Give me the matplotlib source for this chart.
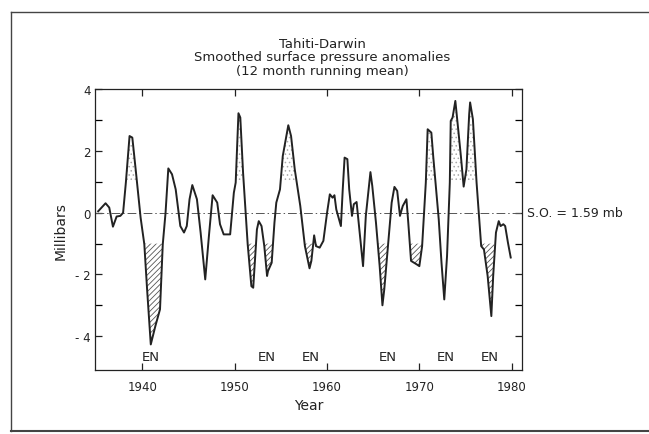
import numpy as np
import matplotlib
matplotlib.use('Agg')
import matplotlib.pyplot as plt
from matplotlib.lines import Line2D

# Tahiti-Darwin pressure anomaly, 12 month running mean
years = [1935.2, 1936.0, 1936.4, 1936.8, 1937.2, 1937.6, 1937.9, 1938.2, 1938.6, 1938.9,
         1939.3, 1939.8, 1940.2, 1940.5, 1940.9, 1941.4, 1941.9, 1942.2, 1942.5, 1942.8,
         1943.2, 1943.6, 1944.1, 1944.5, 1944.8, 1945.1, 1945.4, 1945.9, 1946.3, 1946.8,
         1947.2, 1947.6, 1948.1, 1948.4, 1948.8, 1949.5, 1949.9, 1950.1, 1950.4, 1950.6,
         1950.9, 1951.4, 1951.8, 1952.0, 1952.4, 1952.6, 1952.9, 1953.2, 1953.5, 1953.6,
         1954.0, 1954.3, 1954.5, 1954.9, 1955.2, 1955.8, 1956.1, 1956.5, 1957.1, 1957.6,
         1958.1, 1958.3, 1958.6, 1958.8, 1959.2, 1959.6, 1960.0, 1960.3, 1960.6, 1960.8,
         1961.0, 1961.5, 1961.7, 1961.9, 1962.2, 1962.4, 1962.7, 1962.9, 1963.2, 1963.5,
         1963.9, 1964.2, 1964.7, 1964.9, 1965.3, 1965.7, 1966.0, 1966.2, 1966.6, 1967.0,
         1967.3, 1967.6, 1967.9, 1968.2, 1968.6, 1968.8, 1969.1, 1969.7, 1970.0, 1970.3,
         1970.7, 1970.9, 1971.3, 1971.5, 1972.1, 1972.4, 1972.7, 1973.0, 1973.3, 1973.4,
         1973.6, 1973.9, 1974.1, 1974.5, 1974.8, 1975.1, 1975.4, 1975.5, 1975.8, 1976.2,
         1976.7, 1977.0, 1977.4, 1977.8, 1978.0, 1978.3, 1978.6, 1978.8, 1979.1, 1979.3,
         1979.6, 1979.9]
anomaly = [0.05, 0.31, 0.17, -0.45, -0.12, -0.10, 0.0, 0.98, 2.49, 2.44,
           1.30, -0.16, -1.02, -2.48, -4.27, -3.67, -3.13, -1.02, 0.0, 1.44,
           1.25, 0.76, -0.43, -0.64, -0.43, 0.44, 0.90, 0.44, -0.64, -2.16,
           -0.75, 0.57, 0.33, -0.37, -0.70, -0.70, 0.65, 0.98, 3.23, 3.09,
           1.30, -1.02, -2.38, -2.43, -0.54, -0.27, -0.43, -1.08, -2.05, -1.89,
           -1.62, -0.32, 0.33, 0.76, 1.84, 2.84, 2.49, 1.41, 0.22, -1.08,
           -1.80, -1.56, -0.73, -1.08, -1.13, -0.91, 0.0, 0.60, 0.49, 0.57,
           0.11, -0.43, 0.76, 1.79, 1.74, 0.76, -0.10, 0.28, 0.35, -0.54,
           -1.73, -0.10, 1.32, 0.87, -0.32, -1.73, -3.00, -2.48, -1.08, 0.33,
           0.84, 0.71, -0.10, 0.22, 0.44, -0.32, -1.56, -1.67, -1.73, -1.08,
           0.98, 2.71, 2.60, 1.84, -0.21, -1.62, -2.81, -1.40, 0.98, 2.98,
           3.09, 3.63, 3.04, 1.84, 0.85, 1.41, 3.20, 3.58, 3.04, 0.98,
           -1.08, -1.19, -2.05, -3.35, -2.05, -0.64, -0.27, -0.43, -0.37, -0.43,
           -0.97, -1.45]

# shaded episodes (hatched = below -1 mb, stippled = above +1 mb)
hatch_spans = [(1940.0, 1942.4), (1951.3, 1952.2), (1953.0, 1954.1), (1957.4, 1958.9),
               (1965.5, 1966.7), (1968.9, 1970.4), (1976.5, 1978.1)]
stipple_spans = [(1938.1, 1939.4), (1950.1, 1950.9), (1955.1, 1956.6), (1970.6, 1971.7),
                 (1973.2, 1974.6), (1975.0, 1976.2)]
threshold = 1.0

en_years = [1940.9, 1953.5, 1958.2, 1966.6, 1972.9, 1977.6]

fig = plt.figure(figsize=(6.49, 4.35), dpi=100)
ax = fig.add_axes([0.147, 0.147, 0.657, 0.645])

yrs = np.array(years)
vals = np.array(anomaly)
xs = np.linspace(yrs[0], yrs[-1], 6000)
ys = np.interp(xs, yrs, vals)

def in_spans(x, spans):
    m = np.zeros_like(x, dtype=bool)
    for a, b in spans:
        m |= (x >= a) & (x <= b)
    return m

plt.rcParams['hatch.linewidth'] = 0.6
ax.fill_between(xs, ys, -threshold, where=(ys <= -threshold) & in_spans(xs, hatch_spans),
                facecolor='none', edgecolor='#555555', hatch='//////', linewidth=0)
ax.fill_between(xs, ys, threshold, where=(ys >= threshold) & in_spans(xs, stipple_spans),
                facecolor='none', edgecolor='#aaaaaa', hatch='....', linewidth=0)

ax.axhline(0, color='#555555', lw=0.7, dashes=(9, 3, 1.5, 3))
ax.plot(yrs, vals, color='#222222', lw=1.4)

for x in en_years:
    ax.text(x, -4.65, 'EN', ha='center', va='center', fontsize=9.5, color='#222222')

ax.text(1.012, 0, 'S.O. = 1.59 mb', transform=ax.get_yaxis_transform(),
        ha='left', va='center', fontsize=9, color='#222222', clip_on=False)

ax.set_xlim(1934.9, 1981.1)
ax.set_ylim(-5.1, 4.0)
ax.set_xticks([1940, 1950, 1960, 1970, 1980])
ax.set_yticks([-4, -2, 0, 2, 4])
ax.set_yticklabels(['- 4', '- 2', '0', '2', '4'])
ax.set_yticks([-3, -1, 1, 3], minor=True)
ax.tick_params(direction='in', top=True, right=True, length=5, width=0.9,
               labelsize=8.5, colors='#222222')
ax.tick_params(which='minor', direction='in', right=True, left=True, length=5, width=0.9)
ax.tick_params(axis='x', pad=7)
for s in ax.spines.values():
    s.set_linewidth(0.9)
    s.set_color('#222222')

ax.set_xlabel('Year', fontsize=10, color='#222222', labelpad=4)
ax.set_ylabel('Millibars', fontsize=10, color='#222222', labelpad=5)

fig.text(322 / 649, 1 - 44 / 435, 'Tahiti-Darwin', ha='center', va='center', fontsize=9.5, color='#222222')
fig.text(322 / 649, 1 - 58 / 435, 'Smoothed surface pressure anomalies', ha='center', va='center',
         fontsize=9.5, color='#222222')
fig.text(322 / 649, 1 - 72 / 435, '(12 month running mean)', ha='center', va='center',
         fontsize=9.5, color='#222222')

# page frame of the scanned figure
fx0, fy0, fy1 = 11 / 649, 1 - 432 / 435, 1 - 13 / 435
fig.add_artist(Line2D([fx0, fx0], [fy0, fy1], color='#444444', lw=1.0))
fig.add_artist(Line2D([fx0, 1.0], [fy1, fy1], color='#444444', lw=1.0))
fig.add_artist(Line2D([fx0, 1.0], [fy0, fy0], color='#444444', lw=1.5))

fig.savefig('out.png', dpi=100)
